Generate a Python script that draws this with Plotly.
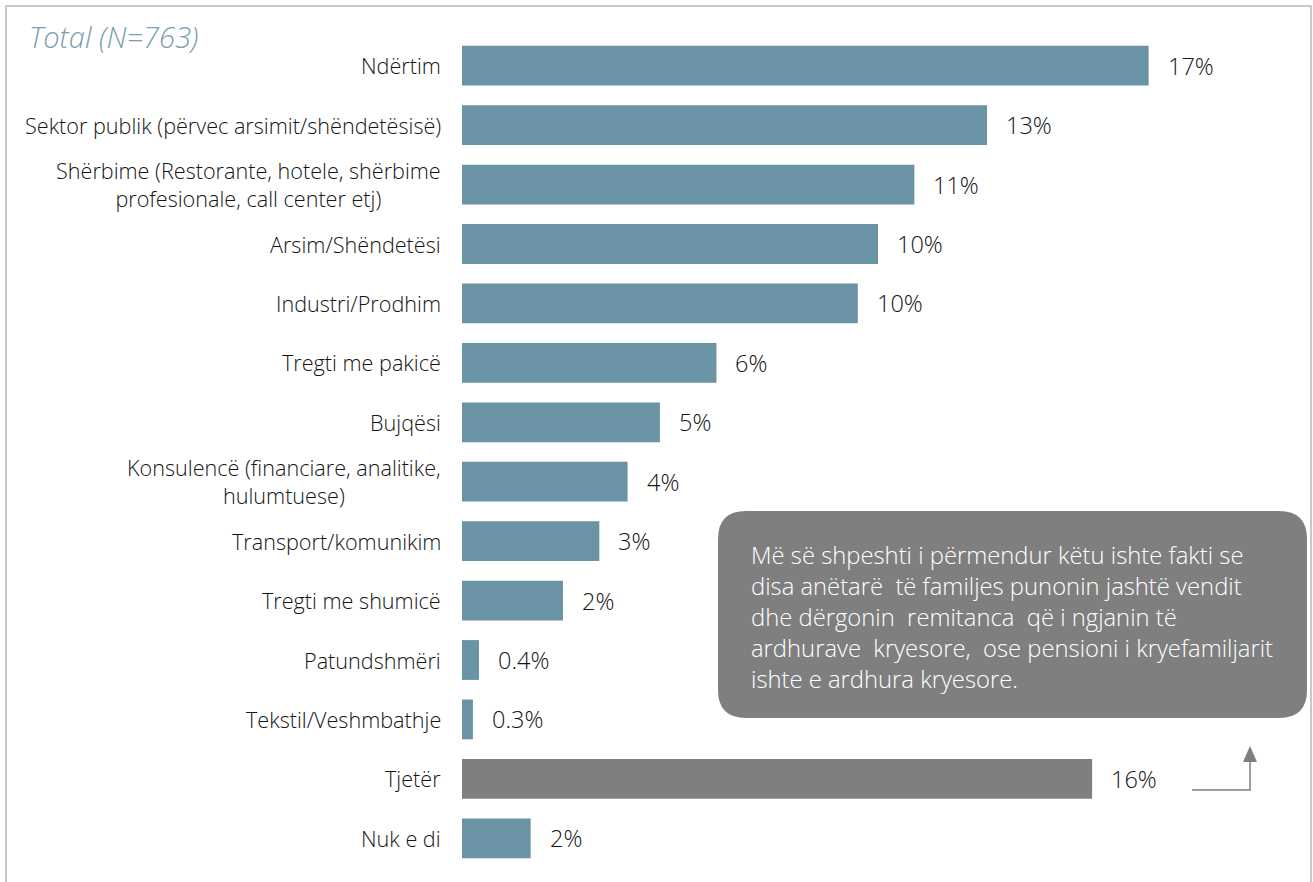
import plotly.graph_objects as go

categories = [
    "Ndërtim",
    "Sektor publik (përvec arsimit/shëndetësisë)",
    "Shërbime (Restorante, hotele, shërbime<br>profesionale, call center etj)",
    "Arsim/Shëndetësi",
    "Industri/Prodhim",
    "Tregti me pakicë",
    "Bujqësi",
    "Konsulencë (financiare, analitike,<br>hulumtuese)",
    "Transport/komunikim",
    "Tregti me shumicë",
    "Patundshmëri",
    "Tekstil/Veshmbathje",
    "Tjetër",
    "Nuk e di",
]
values = [17.0, 13.0, 11.2, 10.3, 9.8, 6.3, 4.9, 4.1, 3.4, 2.5, 0.42, 0.27, 15.6, 1.7]
value_labels = ["17%", "13%", "11%", "10%", "10%", "6%", "5%", "4%", "3%", "2%",
                "0.4%", "0.3%", "16%", "2%"]

BLUE = "#6A93A6"
GREY = "#7F7F7F"
TEXT = "#141414"
FONT = "Open Sans"

# plot area in pixels
W, H = 1313, 882
L, R, T, B = 462, 1290, 36, 868


def px(x):
    return (x - L) / (R - L)


def py(y):
    return (B - y) / (B - T)


colors = [GREY if c == "Tjetër" else BLUE for c in categories]

fig = go.Figure(go.Bar(
    x=values, y=categories, orientation="h",
    marker=dict(color=colors, line=dict(width=0)),
    width=0.67,
))

annotations = []
for cat, v, lab in zip(categories, values, value_labels):
    annotations.append(dict(
        x=v, y=cat, xref="x", yref="y", text=lab, showarrow=False,
        xanchor="left", xshift=17,
        font=dict(family=FONT, size=23.5, color=TEXT, weight=300),
    ))
    annotations.append(dict(
        x=0, y=cat, xref="paper", yref="y", text=cat, showarrow=False,
        xanchor="right", xshift=-19, align="center",
        font=dict(family=FONT, size=21.6, color=TEXT, weight=300),
    ))

annotations.append(dict(
    x=px(27), y=py(36), xref="paper", yref="paper", text="<i>Total (N=763)</i>",
    showarrow=False, xanchor="left", yanchor="middle",
    font=dict(family=FONT, size=29, color="#7A9EAF", weight=300),
))

note = ("Më së shpeshti i përmendur këtu ishte fakti se<br>"
        "disa anëtarë  të familjes punonin jashtë vendit<br>"
        "dhe dërgonin  remitanca  që i ngjanin të<br>"
        "ardhurave  kryesore,  ose pensioni i kryefamiljarit<br>"
        "ishte e ardhura kryesore.")
annotations.append(dict(
    x=px(749), y=py(617), xref="paper", yref="paper", text=note,
    showarrow=False, xanchor="left", yanchor="middle", align="left",
    font=dict(family=FONT, size=23.8, color="white", weight=300),
))


def rounded_rect(x0, y0, x1, y1, r):
    return (f"M {px(x0 + r)},{py(y0)} L {px(x1 - r)},{py(y0)} "
            f"Q {px(x1)},{py(y0)} {px(x1)},{py(y0 + r)} "
            f"L {px(x1)},{py(y1 - r)} Q {px(x1)},{py(y1)} {px(x1 - r)},{py(y1)} "
            f"L {px(x0 + r)},{py(y1)} Q {px(x0)},{py(y1)} {px(x0)},{py(y1 - r)} "
            f"L {px(x0)},{py(y0 + r)} Q {px(x0)},{py(y0)} {px(x0 + r)},{py(y0)} Z")


shapes = [
    # frame
    dict(type="path", xref="paper", yref="paper",
         path=f"M {px(6)},{py(885)} L {px(6)},{py(6)} L {px(1311)},{py(6)} L {px(1311)},{py(885)}",
         line=dict(color="#C8C8C8", width=2)),
    # callout box
    dict(type="path", xref="paper", yref="paper", path=rounded_rect(718, 511, 1307, 718, 28),
         fillcolor=GREY, line=dict(width=0), layer="above"),
    # arrow
    dict(type="path", xref="paper", yref="paper",
         path=f"M {px(1192)},{py(790)} L {px(1250)},{py(790)} L {px(1250)},{py(760)}",
         line=dict(color=GREY, width=1.5)),
    dict(type="path", xref="paper", yref="paper",
         path=f"M {px(1243)},{py(762)} L {px(1257)},{py(762)} L {px(1250)},{py(746)} Z",
         fillcolor=GREY, line=dict(width=0)),
]

fig.update_layout(
    width=W, height=H,
    margin=dict(l=L, r=W - R, t=T, b=H - B, pad=0),
    plot_bgcolor="white", paper_bgcolor="white",
    showlegend=False,
    xaxis=dict(range=[0, 20.5], visible=False, fixedrange=True),
    yaxis=dict(autorange="reversed", showticklabels=False, showgrid=False,
               zeroline=False, showline=False, ticks=""),
    annotations=annotations,
    shapes=shapes,
    font=dict(family=FONT),
)

# drop the default 8px page margin so the figure sits at the window's corner
fig.write_html("out.html", config={"displayModeBar": False},
               post_script="document.body.style.margin = '0';")
